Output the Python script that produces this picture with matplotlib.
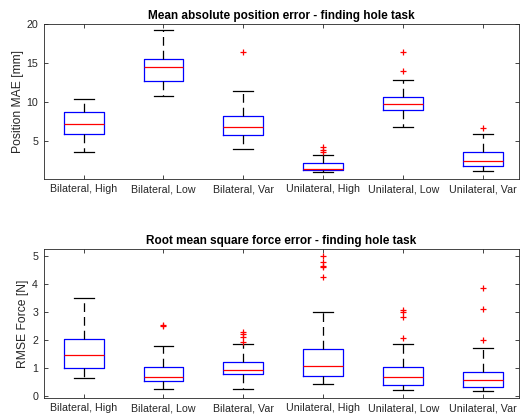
import matplotlib
matplotlib.use("Agg")
import matplotlib.pyplot as plt

plt.rcParams['font.family'] = ['Liberation Sans', 'DejaVu Sans']

categories = ['Bilateral, High', 'Bilateral, Low', 'Bilateral, Var',
              'Unilateral, High', 'Unilateral, Low', 'Unilateral, Var']

# position MAE [mm]: whislo, q1, med, q3, whishi, outliers
pos_lo = [3.63, 10.75, 4.0, 1.12, 6.8, 1.25]
pos_q1 = [6.0, 12.77, 5.8, 1.34, 8.97, 1.81]
pos_med = [7.17, 14.5, 6.9, 1.51, 9.84, 2.5]
pos_q3 = [8.8, 15.57, 8.3, 2.2, 10.74, 3.63]
pos_hi = [10.44, 19.3, 11.5, 3.32, 12.86, 5.9]
pos_out = [[], [], [16.5], [3.63, 3.84, 4.27], [14.06, 16.5], [6.77]]

# RMSE force [N]
frc_lo = [0.63, 0.25, 0.25, 0.41, 0.2, 0.16]
frc_q1 = [1.0, 0.53, 0.77, 0.72, 0.38, 0.3]
frc_med = [1.47, 0.68, 0.92, 1.08, 0.66, 0.55]
frc_q3 = [2.03, 1.02, 1.21, 1.67, 1.02, 0.85]
frc_hi = [3.49, 1.77, 1.86, 2.99, 1.84, 1.7]
frc_out = [[], [2.48, 2.52], [1.91, 2.1, 2.2, 2.29],
           [4.24, 4.59, 4.66, 4.8, 5.0], [2.08, 2.81, 2.99, 3.07],
           [2.0, 3.12, 3.84]]


def make_stats(lo, q1, med, q3, hi, out):
    stats = []
    for i in range(len(categories)):
        stats.append(dict(whislo=lo[i], q1=q1[i], med=med[i], q3=q3[i],
                          whishi=hi[i], fliers=out[i], label=categories[i]))
    return stats


def draw(ax, stats, title, ylabel, ylim, yticks):
    ax.bxp(stats, widths=0.5,
           boxprops=dict(color='blue', linewidth=0.9),
           medianprops=dict(color='red', linewidth=0.9),
           whiskerprops=dict(color='black', linestyle=(0, (7, 4)), linewidth=0.9),
           capprops=dict(color='black', linewidth=0.9),
           capwidths=0.25,
           flierprops=dict(marker='+', markeredgecolor='red', markersize=5,
                           linestyle='none', markeredgewidth=0.9))
    ax.set_xlim(0.5, 6.45)
    ax.set_ylim(*ylim)
    ax.set_yticks(yticks)
    ax.set_title(title, fontsize=8.5, fontweight='bold', pad=4)
    ax.set_ylabel(ylabel, fontsize=8.7, color='#262626', labelpad=2)
    ax.tick_params(direction='in', top=True, right=True, labelsize=7.7,
                   colors='#262626', length=3, width=0.6, pad=4)
    for s in ax.spines.values():
        s.set_color('#262626')
        s.set_linewidth(0.6)


fig = plt.figure(figsize=(5.2, 4.18), dpi=100)
ax1 = fig.add_axes([0.084, 0.572, 0.914, 0.370])
ax2 = fig.add_axes([0.084, 0.0486, 0.914, 0.355])

draw(ax1, make_stats(pos_lo, pos_q1, pos_med, pos_q3, pos_hi, pos_out),
     'Mean absolute position error - finding hole task', 'Position MAE [mm]',
     (0.2, 20), [5, 10, 15, 20])
draw(ax2, make_stats(frc_lo, frc_q1, frc_med, frc_q3, frc_hi, frc_out),
     'Root mean square force error - finding hole task', 'RMSE Force [N]',
     (-0.07, 5.24), [0, 1, 2, 3, 4, 5])

fig.savefig('out.png', dpi=100)
